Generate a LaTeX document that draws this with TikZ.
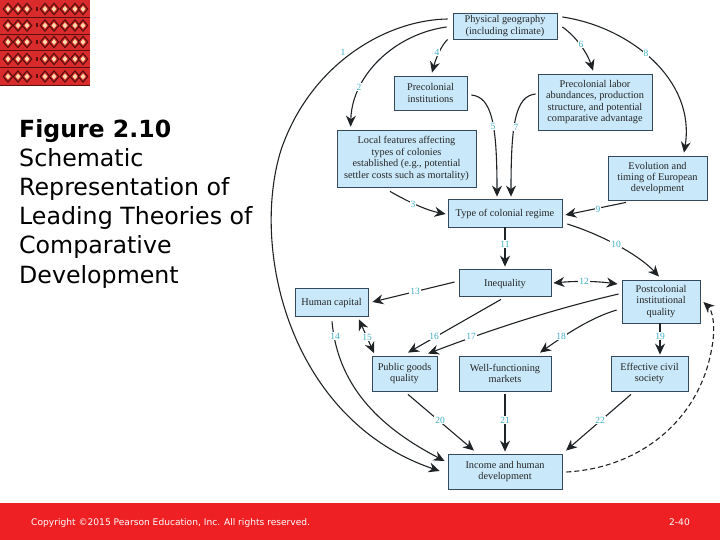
\documentclass[tikz,border=0pt]{standalone}
\usepackage{fontspec}
\setmainfont{Liberation Serif}
\newfontfamily\slidefont{DejaVu Sans}
\usetikzlibrary{arrows.meta}
\definecolor{boxfill}{HTML}{C9E8F9}
\definecolor{boxline}{HTML}{34495A}
\definecolor{numcol}{HTML}{3FB0C8}
\definecolor{arrowcol}{HTML}{1F2326}
\definecolor{bandred}{HTML}{EE2024}
\definecolor{logored}{HTML}{D92B2B}
\definecolor{logodark}{HTML}{5A0F0F}
\definecolor{logolight}{HTML}{FBD9A8}
\tikzset{
  box/.style={draw=boxline,fill=boxfill,line width=0.8pt,inner sep=0pt,align=center,text=black!85,font=\fontsize{10.3}{11.4}\selectfont,execute at begin node={\rule{0pt}{9.5pt}}},
  link/.style={draw=arrowcol,line width=1.1pt,-{Stealth[length=11pt,width=10pt]}},
  both/.style={link,{Stealth[length=11pt,width=10pt]}-{Stealth[length=11pt,width=10pt]}},
  num/.style={fill=white,text=numcol,inner sep=1pt,font=\fontsize{9.5}{10}\selectfont},
  title/.style={anchor=base west,inner sep=0pt,font=\slidefont\fontsize{23.7}{27}\selectfont,text=black},
  foot/.style={inner sep=0pt,text=white,font=\slidefont\fontsize{9.1}{10}\selectfont}
}
\begin{document}
\begin{tikzpicture}[x=1pt,y=-1pt]
\useasboundingbox (0,0) rectangle (720,540);
% logo
\fill[logored] (0,0) rectangle (90,85);
\foreach \yy in {9,25.5,42,59,76.5}{
  \draw[logodark,line width=0.5pt] (0,\yy+8.3) -- (90,\yy+8.3);
  \foreach \xx in {8,18,27,45,54,65,75,83}{
    \fill[logodark] (\xx-5.5,\yy) -- (\xx,\yy-6.5) -- (\xx+5.5,\yy) -- (\xx,\yy+6.5) -- cycle;
    \fill[logored] (\xx-3.8,\yy) -- (\xx,\yy-4.6) -- (\xx+3.8,\yy) -- (\xx,\yy+4.6) -- cycle;
    \fill[logolight] (\xx-2.4,\yy) -- (\xx,\yy-2.9) -- (\xx+2.4,\yy) -- (\xx,\yy+2.9) -- cycle;
  }
  \fill[logodark] (35.5,\yy-2) rectangle (38,\yy+2);
}
% band
\fill[bandred] (0,503) rectangle (720,540);
\node[foot,anchor=base west] (copy) at (31,525) {Copyright ©2015 Pearson Education, Inc. All rights reserved.};
\node[foot,anchor=base east] (page) at (690,525) {2-40};
% title
\node[title,font=\slidefont\bfseries\fontsize{23.6}{27}\selectfont] (t1) at (19,138) {Figure 2.10};
\node[title] (t2) at (19,167) {Schematic};
\node[title] (t3) at (19,196) {Representation of};
\node[title] (t4) at (19,225) {Leading Theories of};
\node[title] (t5) at (19,254) {Comparative};
\node[title] (t6) at (19,283) {Development};
% boxes
\node[box,minimum width=104pt,minimum height=26pt] (phys) at (505,26) {Physical geography\\(including climate)};
\node[box,minimum width=73pt,minimum height=34pt] (inst) at (430.5,93) {Precolonial\\institutions};
\node[box,minimum width=114pt,minimum height=56pt] (labor) at (595,102) {Precolonial labor\\abundances, production\\structure, and potential\\comparative advantage};
\node[box,minimum width=139pt,minimum height=57pt] (local) at (406.5,158.5) {Local features affecting\\types of colonies\\established (e.g., potential\\settler costs such as mortality)};
\node[box,minimum width=99pt,minimum height=44pt] (evol) at (657.5,178) {Evolution and\\timing of European\\development};
\node[box,minimum width=114pt,minimum height=28pt] (regime) at (505,213) {Type of colonial regime};
\node[box,minimum width=92pt,minimum height=27pt] (ineq) at (505,282.5) {Inequality};
\node[box,minimum width=78pt,minimum height=43pt] (post) at (661,301.5) {Postcolonial\\institutional\\quality};
\node[box,minimum width=73pt,minimum height=28pt] (human) at (331.5,302) {Human capital};
\node[box,minimum width=65pt,minimum height=35pt] (public) at (404.5,373.5) {Public goods\\quality};
\node[box,minimum width=92pt,minimum height=35pt] (well) at (505,373.5) {Well-functioning\\markets};
\node[box,minimum width=77pt,minimum height=35pt] (civil) at (649.5,373.5) {Effective civil\\society};
\node[box,minimum width=114pt,minimum height=35pt] (income) at (505,471.5) {Income and human\\development};
% connectors
\draw[link] ([shift={(-5,-7)}]phys.west) .. controls (385,20) and (310,65) .. (281,150) .. controls (250,250) and (290,420) .. ([shift={(-8,-0.5)}]income.west);
\draw[link] ([shift={(-6,1)}]phys.west) .. controls (395,34) and (352,75) .. ([shift={(14,-3)}]local.north west);
\draw[link] ([shift={(-5,0)}]phys.south west) .. controls (441,46) and (436,58) .. ([shift={(1.5,-3)}]inst.north);
\draw[link] ([shift={(4,2)}]inst.east) .. controls (492,97) and (497,125) .. ([shift={(-8,-2)}]regime.north);
\draw[link] ([shift={(-2,-8)}]labor.west) .. controls (515,96) and (511,125) .. ([shift={(6,-2)}]regime.north);
\draw[link] ([shift={(5,1)}]phys.east) .. controls (578,38) and (588,55) .. ([shift={(-2,-3)}]labor.north);
\draw[link] ([shift={(5,-9)}]phys.east) .. controls (630,27) and (696,80) .. ([shift={(26.5,-3)}]evol.north);
\draw[link] ([shift={(-16.5,4)}]local.south) .. controls (405,200) and (425,210) .. ([shift={(-2,1)}]regime.west);
\draw[link] ([shift={(-31.5,2)}]evol.south) -- ([shift={(3,2)}]regime.east);
\draw[link] ([shift={(5,11)}]regime.east) .. controls (605,236) and (640,256) .. ([shift={(-2,-3)}]post.north);
\draw[link] (regime.south) -- ([shift={(0,-2)}]ineq.north);
\draw[both] ([shift={(2,0.5)}]ineq.east) .. controls (575,281) and (595,281) .. ([shift={(-4,-17.5)}]post.west);
\draw[link] ([shift={(-4,-0.5)}]ineq.west) -- ([shift={(4,0)}]human.east);
\draw[link] ([shift={(0.5,5)}]human.south) .. controls (338,390) and (385,430) .. ([shift={(-3,-10.5)}]income.west);
\draw[both] ([shift={(27.5,3)}]human.south) -- ([shift={(-30.5,-2.5)}]public.north);
\draw[link] ([shift={(-4,3)}]ineq.south) -- ([shift={(3.5,-3)}]public.north);
\draw[link] ([shift={(-3,-7.5)}]post.west) .. controls (550,310) and (490,330) .. ([shift={(23.5,-2)}]public.north);
\draw[link] ([shift={(-5,8.5)}]post.west) .. controls (590,318) and (565,335) .. ([shift={(35,-3)}]well.north);
\draw[link] ([shift={(-1,0)}]post.south) -- ([shift={(10.5,-1)}]civil.north);
\draw[link] ([shift={(3.5,3)}]public.south) -- ([shift={(-31,-3)}]income.north);
\draw[link] ([shift={(0,3)}]well.south) -- ([shift={(0,-2)}]income.north);
\draw[link] ([shift={(-18.5,3)}]civil.south) -- ([shift={(61,-3)}]income.north);
\draw[link,dash pattern=on 5pt off 3pt] ([shift={(4,0.5)}]income.east) .. controls (640,468) and (700,420) .. (712,347) .. controls (716,325) and (712,310) .. ([shift={(3,0.5)}]post.east);
% numbers
\node[num] (n1) at (343,52) {1};
\node[num] (n2) at (359,87) {2};
\node[num] (n3) at (413,204) {3};
\node[num] (n4) at (437,52) {4};
\node[num] (n5) at (493,126) {5};
\node[num] (n6) at (581,44) {6};
\node[num] (n7) at (516,127) {7};
\node[num] (n8) at (646,53) {8};
\node[num] (n9) at (598,209) {9};
\node[num] (n10) at (616,244) {10};
\node[num] (n11) at (505,244) {11};
\node[num] (n12) at (584,281) {12};
\node[num] (n13) at (415,291) {13};
\node[num] (n14) at (335,336) {14};
\node[num] (n15) at (367,337) {15};
\node[num] (n16) at (434,336) {16};
\node[num] (n17) at (471,336) {17};
\node[num] (n18) at (561,336) {18};
\node[num] (n19) at (660,336) {19};
\node[num] (n20) at (440,420) {20};
\node[num] (n21) at (505,420) {21};
\node[num] (n22) at (600,420) {22};
\end{tikzpicture}
\end{document}
